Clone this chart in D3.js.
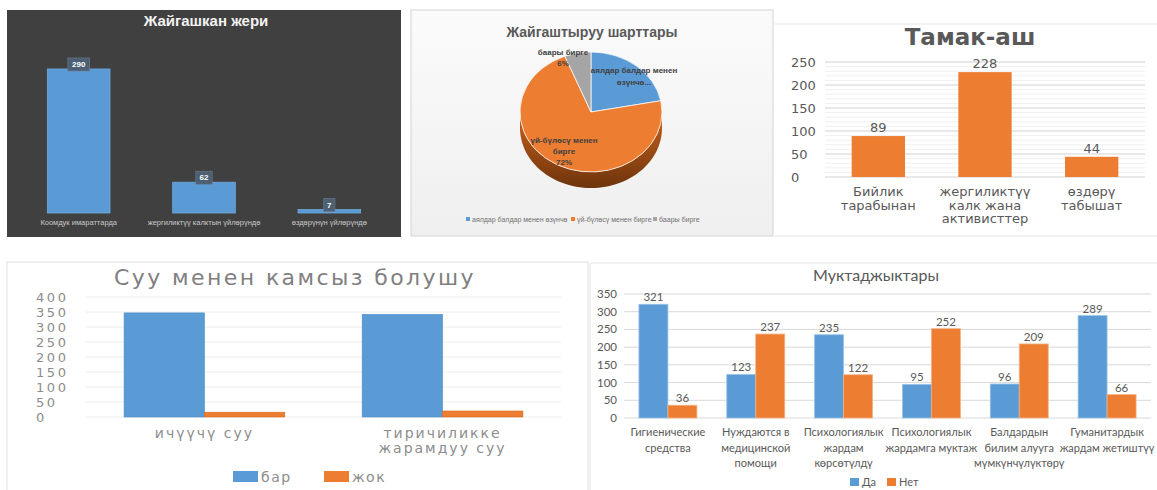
<!DOCTYPE html>
<html>
<head>
<meta charset="utf-8">
<script src="https://cdn.jsdelivr.net/npm/d3@7"></script>
<style>
  body { margin: 0; background: #fff; }
  svg { display: block; }
</style>
</head>
<body>
<div id="chart"></div>
<script>
// --- data ---
var placeCats = ["Коомдук имараттарда", "жергиликтүү калктын үйлөрүндө", "өздөрүнүн үйлөрүндө"];
var placeVals = [290, 62, 7];

var condCats = ["аялдар балдар менен өзүнчө", "үй-бүлөсү менен бирге", "баары бирге"];
var condVals = [22, 72, 6];

var foodCats = [["Бийлик", "тарабынан"], ["жергиликтүү", "калк жана", "активисттер"], ["өздөрү", "табышат"]];
var foodVals = [89, 228, 44];
var foodTicks = [0, 50, 100, 150, 200, 250];

var waterCats = [["ичүүчү суу"], ["тиричиликке", "жарамдуу суу"]];
var waterSeries = ["бар", "жок"];
var waterYes = [347, 342];
var waterNo = [16, 20];
var waterTicks = [0, 50, 100, 150, 200, 250, 300, 350, 400];

var needCats = [["Гигиенические", "средства"], ["Нуждаются в", "медицинской", "помощи"], ["Психологиялык", "жардам", "көрсөтүлдү"],
  ["Психологиялык", "жардамга муктаж"], ["Балдардын", "билим алууга", "мүмкүнчүлүктөрү"], ["Гуманитардык", "жардам жетиштүү"]];
var needSeries = ["Да", "Нет"];
var needYes = [321, 123, 235, 95, 96, 289];
var needNo = [36, 237, 122, 252, 209, 66];
var needTicks = [0, 50, 100, 150, 200, 250, 300, 350];

var blue = "#5b9bd5", orange = "#ed7d31", grey = "#a5a5a5";

var svg = d3.select("#chart").append("svg")
  .attr("width", 1157).attr("height", 490);
var defs = svg.append("defs");

// ================= Panel 1: Жайгашкан жери (dark) =================
(function () {
  var g = svg.append("g");
  var f = "Liberation Sans Narrow, Liberation Sans";
  g.append("rect").attr("x", 7).attr("y", 10).attr("width", 394).attr("height", 227).attr("fill", "#404040");
  g.append("text").attr("x", 206).attr("y", 26).attr("text-anchor", "middle")
    .attr("font-family", f).attr("font-size", 15).attr("font-weight", "bold")
    .attr("fill", "#f2f2f2").text("Жайгашкан жери");

  var x = d3.scaleBand().domain(placeCats).range([16, 392]).paddingInner(0.5).paddingOuter(0.25);
  var y = d3.scaleLinear().domain([0, 300]).range([213, 64]);

  g.selectAll(".b1").data(placeVals).enter().append("rect")
    .attr("x", function (d, i) { return x(placeCats[i]); })
    .attr("y", function (d) { return y(d); })
    .attr("width", x.bandwidth())
    .attr("height", function (d) { return y(0) - y(d); })
    .attr("fill", blue).attr("stroke", "#6fa8dc").attr("stroke-width", 0.8);

  var lab = g.selectAll(".l1").data(placeVals).enter().append("g")
    .attr("transform", function (d, i) {
      return "translate(" + (x(placeCats[i]) + x.bandwidth() / 2) + "," + (y(d) - 5) + ")";
    });
  lab.append("rect")
    .attr("x", function (d) { return -(String(d).length * 2.6 + 3); })
    .attr("y", -6).attr("width", function (d) { return String(d).length * 5.2 + 6; }).attr("height", 13)
    .attr("fill", "#4d5f73").attr("stroke", "#6c7d90").attr("stroke-width", 0.6);
  lab.append("text").attr("text-anchor", "middle").attr("y", 3)
    .attr("font-family", f).attr("font-size", 8).attr("font-weight", "bold")
    .attr("fill", "#fff").text(function (d) { return d; });

  g.selectAll(".c1").data(placeCats).enter().append("text")
    .attr("x", function (d) { return x(d) + x.bandwidth() / 2; })
    .attr("y", 225).attr("text-anchor", "middle")
    .attr("font-family", f).attr("font-size", 7.5)
    .attr("fill", "#c8c8c8").text(function (d) { return d; });
})();

// ================= Panel 2: Жайгаштыруу шарттары (3D pie) =================
(function () {
  var g = svg.append("g");
  var f = "Liberation Sans Narrow, Liberation Sans";
  var grad = defs.append("linearGradient").attr("id", "bg2").attr("x1", 0).attr("y1", 0).attr("x2", 0).attr("y2", 1);
  grad.append("stop").attr("offset", "0%").attr("stop-color", "#fbfbfb");
  grad.append("stop").attr("offset", "100%").attr("stop-color", "#efefef");
  var side = defs.append("linearGradient").attr("id", "side2").attr("x1", 0).attr("y1", 0).attr("x2", 0).attr("y2", 1);
  side.append("stop").attr("offset", "0%").attr("stop-color", "#c8621c");
  side.append("stop").attr("offset", "100%").attr("stop-color", "#6e340c");

  g.append("rect").attr("x", 411).attr("y", 10).attr("width", 362).attr("height", 226)
    .attr("fill", "url(#bg2)").attr("stroke", "#d4d4d4");
  g.append("text").attr("x", 592).attr("y", 37).attr("text-anchor", "middle")
    .attr("font-family", f).attr("font-size", 14).attr("font-weight", "bold")
    .attr("fill", "#595959").text("Жайгаштыруу шарттары");

  var cx = 591, cy = 112, rx = 71, ry = 60, depth = 16;
  var colors = [blue, orange, grey];
  var pie = d3.pie().sort(null)(condVals);

  function pt(a, dy) { return [cx + rx * Math.sin(a), cy - ry * Math.cos(a) + dy]; }

  // side wall (front half only)
  pie.forEach(function (s, i) {
    var a0 = Math.max(s.startAngle, Math.PI / 2), a1 = Math.min(s.endAngle, Math.PI * 3 / 2);
    if (a1 <= a0) return;
    var top = [], bot = [];
    for (var k = 0; k <= 60; k++) {
      var a = a0 + (a1 - a0) * k / 60;
      top.push(pt(a, 0)); bot.push(pt(a, depth));
    }
    g.append("path").attr("d", d3.line()(top.concat(bot.reverse())) + "Z")
      .attr("fill", i === 1 ? "url(#side2)" : d3.color(colors[i]).darker(1));
  });

  var arc = d3.arc().innerRadius(0).outerRadius(rx);
  g.append("g").attr("transform", "translate(" + cx + "," + cy + ") scale(1," + (ry / rx) + ")")
    .selectAll("path").data(pie).enter().append("path")
    .attr("d", arc).attr("fill", function (d, i) { return colors[i]; })
    .attr("stroke", "#fff").attr("stroke-width", 0.8);

  var labels = [
    { x: 634, y: [73, 85], t: ["аялдар балдар менен", "өзүнчө..."] },
    { x: 564, y: [143, 154, 165], t: ["үй-бүлөсү менен", "бирге", condVals[1] + "%"] },
    { x: 563, y: [55, 66], t: ["баары бирге", condVals[2] + "%"] }
  ];
  labels.forEach(function (l) {
    l.t.forEach(function (t, j) {
      g.append("text").attr("x", l.x).attr("y", l.y[j]).attr("text-anchor", "middle")
        .attr("font-family", f).attr("font-size", 8).attr("font-weight", "bold")
        .attr("fill", "#404040").text(t);
    });
  });

  var lx = [466, 571, 653];
  condCats.forEach(function (c, i) {
    g.append("rect").attr("x", lx[i]).attr("y", 217).attr("width", 4).attr("height", 4).attr("fill", colors[i]);
    g.append("text").attr("x", lx[i] + 6).attr("y", 221.5)
      .attr("font-family", f).attr("font-size", 7).attr("fill", "#707070").text(c);
  });
})();

// ================= Panel 3: Тамак-аш =================
(function () {
  var g = svg.append("g");
  var f = "DejaVu Sans";
  g.append("line").attr("x1", 775).attr("x2", 1157).attr("y1", 24).attr("y2", 24).attr("stroke", "#e3e3e3");
  g.append("line").attr("x1", 775).attr("x2", 1157).attr("y1", 236).attr("y2", 236).attr("stroke", "#e3e3e3");
  g.append("text").attr("x", 970).attr("y", 45).attr("text-anchor", "middle")
    .attr("font-family", f).attr("font-size", 23).attr("font-weight", "bold")
    .attr("fill", "#595959").text("Тамак-аш");

  var x = d3.scaleBand().domain(d3.range(foodVals.length)).range([825, 1145]).paddingInner(0.5).paddingOuter(0.25);
  var y = d3.scaleLinear().domain([0, 250]).range([177, 62]);

  g.selectAll(".mg").data(d3.range(0, 251, 10)).enter().append("line")
    .attr("x1", 825).attr("x2", 1145)
    .attr("y1", function (d) { return y(d); }).attr("y2", function (d) { return y(d); })
    .attr("stroke", "#f0f0f0");
  g.selectAll(".gr").data(foodTicks).enter().append("line")
    .attr("x1", 825).attr("x2", 1145)
    .attr("y1", function (d) { return y(d); }).attr("y2", function (d) { return y(d); })
    .attr("stroke", "#d9d9d9");
  g.selectAll(".tk").data(foodTicks).enter().append("text")
    .attr("x", 791).attr("y", function (d) { return y(d) + 5; })
    .attr("font-family", f).attr("font-size", 13).attr("fill", "#595959").text(function (d) { return d; });

  g.selectAll(".bar").data(foodVals).enter().append("rect")
    .attr("x", function (d, i) { return x(i); }).attr("y", function (d) { return y(d); })
    .attr("width", x.bandwidth()).attr("height", function (d) { return y(0) - y(d); })
    .attr("fill", orange);
  g.selectAll(".vl").data(foodVals).enter().append("text")
    .attr("x", function (d, i) { return x(i) + x.bandwidth() / 2; }).attr("y", function (d) { return y(d) - 4; })
    .attr("text-anchor", "middle").attr("font-family", f).attr("font-size", 13).attr("fill", "#595959")
    .text(function (d) { return d; });

  foodCats.forEach(function (lines, i) {
    lines.forEach(function (t, j) {
      g.append("text").attr("x", x(i) + x.bandwidth() / 2).attr("y", 196 + j * 13.5)
        .attr("text-anchor", "middle").attr("font-family", f).attr("font-size", 13)
        .attr("fill", "#595959").text(t);
    });
  });
})();

// ================= Panel 4: Суу менен камсыз болушу =================
(function () {
  var g = svg.append("g");
  var f = "DejaVu Sans";
  var c = "#8c8c8c";
  g.append("rect").attr("x", 7).attr("y", 262).attr("width", 581).attr("height", 230)
    .attr("fill", "#fff").attr("stroke", "#e0e0e0");
  g.append("text").attr("x", 295).attr("y", 285).attr("text-anchor", "middle")
    .attr("font-family", f).attr("font-size", 22).attr("letter-spacing", 2.4)
    .attr("fill", "#808080").text("Суу менен камсыз болушу");

  var x0 = d3.scaleBand().domain(d3.range(waterCats.length)).range([86, 561]).paddingInner(0.325).paddingOuter(0.16);
  var x1 = d3.scaleBand().domain(waterSeries).range([0, x0.bandwidth()]);
  var y = d3.scaleLinear().domain([0, 400]).range([417, 297]);

  g.selectAll(".gr").data(waterTicks).enter().append("line")
    .attr("x1", 86).attr("x2", 561)
    .attr("y1", function (d) { return y(d); }).attr("y2", function (d) { return y(d); })
    .attr("stroke", "#ececec");
  g.selectAll(".tk").data(waterTicks).enter().append("text")
    .attr("x", 36).attr("y", function (d) { return y(d) + 5; })
    .attr("font-family", f).attr("font-size", 13).attr("letter-spacing", 2.6)
    .attr("fill", c).text(function (d) { return d; });

  var series = [waterYes, waterNo], cols = [blue, orange];
  series.forEach(function (vals, s) {
    g.selectAll(".b" + s).data(vals).enter().append("rect")
      .attr("x", function (d, i) { return x0(i) + x1(waterSeries[s]); })
      .attr("y", function (d) { return y(d); })
      .attr("width", x1.bandwidth()).attr("height", function (d) { return y(0) - y(d); })
      .attr("fill", cols[s]).attr("stroke", s === 0 ? "#4a8ac8" : "#d86a20").attr("stroke-width", 0.6);
  });

  waterCats.forEach(function (lines, i) {
    lines.forEach(function (t, j) {
      g.append("text").attr("x", x0(i) + x0.bandwidth() / 2).attr("y", 438 + j * 15)
        .attr("text-anchor", "middle").attr("font-family", f).attr("font-size", 14).attr("letter-spacing", 2)
        .attr("fill", c).text(t);
    });
  });

  var lx = [233, 324];
  waterSeries.forEach(function (s, i) {
    g.append("rect").attr("x", lx[i]).attr("y", 471).attr("width", 25).attr("height", 11).attr("fill", cols[i]);
    g.append("text").attr("x", lx[i] + 28).attr("y", 482)
      .attr("font-family", f).attr("font-size", 14).attr("letter-spacing", 1.5)
      .attr("fill", c).text(s);
  });
})();

// ================= Panel 5: Муктаджыктары =================
(function () {
  var g = svg.append("g");
  var f = "Lato";
  var c = "#595959";
  g.append("line").attr("x1", 590).attr("x2", 1157).attr("y1", 263).attr("y2", 263).attr("stroke", "#e3e3e3");
  g.append("line").attr("x1", 590).attr("x2", 590).attr("y1", 263).attr("y2", 490).attr("stroke", "#e3e3e3");
  g.append("text").attr("x", 876).attr("y", 281).attr("text-anchor", "middle")
    .attr("font-family", f).attr("font-size", 16).attr("fill", c).text("Муктаджыктары");

  var x0 = d3.scaleBand().domain(d3.range(needCats.length)).range([624, 1151]).paddingInner(0.34).paddingOuter(0.17);
  var x1 = d3.scaleBand().domain(needSeries).range([0, x0.bandwidth()]);
  var y = d3.scaleLinear().domain([0, 350]).range([418, 294]);

  g.selectAll(".gr").data(needTicks).enter().append("line")
    .attr("x1", 624).attr("x2", 1151)
    .attr("y1", function (d) { return y(d); }).attr("y2", function (d) { return y(d); })
    .attr("stroke", "#d9d9d9");
  g.selectAll(".tk").data(needTicks).enter().append("text")
    .attr("x", 617).attr("y", function (d) { return y(d) + 4; }).attr("text-anchor", "end")
    .attr("font-family", f).attr("font-size", 11.5).attr("fill", c).text(function (d) { return d; });

  var series = [needYes, needNo], cols = [blue, orange];
  series.forEach(function (vals, s) {
    g.selectAll(".b" + s).data(vals).enter().append("rect")
      .attr("x", function (d, i) { return x0(i) + x1(needSeries[s]); })
      .attr("y", function (d) { return y(d); })
      .attr("width", x1.bandwidth()).attr("height", function (d) { return y(0) - y(d); })
      .attr("fill", cols[s]).attr("stroke", s === 0 ? "#9cc3e6" : "#f4b183").attr("stroke-width", 0.8);
    g.selectAll(".v" + s).data(vals).enter().append("text")
      .attr("x", function (d, i) { return x0(i) + x1(needSeries[s]) + x1.bandwidth() / 2; })
      .attr("y", function (d) { return y(d) - 3; })
      .attr("text-anchor", "middle").attr("font-family", f).attr("font-size", 11.5).attr("fill", c)
      .text(function (d) { return d; });
  });

  needCats.forEach(function (lines, i) {
    lines.forEach(function (t, j) {
      g.append("text").attr("x", x0(i) + x0.bandwidth() / 2).attr("y", 436 + j * 15.5)
        .attr("text-anchor", "middle").attr("font-family", f).attr("font-size", 11)
        .attr("fill", c).text(t);
    });
  });

  var lx = [850, 887];
  needSeries.forEach(function (s, i) {
    g.append("rect").attr("x", lx[i]).attr("y", 478).attr("width", 9).attr("height", 8).attr("fill", cols[i]);
    g.append("text").attr("x", lx[i] + 12).attr("y", 486)
      .attr("font-family", f).attr("font-size", 11).attr("fill", c).text(s);
  });
})();
</script>
</body>
</html>
